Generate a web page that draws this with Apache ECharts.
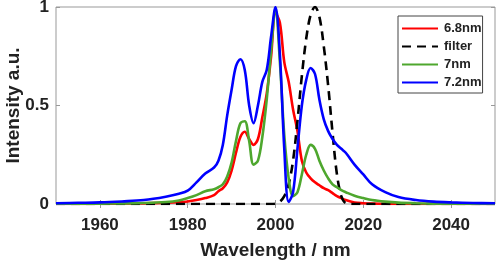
<!DOCTYPE html>
<html>
<head>
<meta charset="utf-8">
<script src="https://cdn.jsdelivr.net/npm/echarts@6/dist/echarts.min.js"></script>
<style>
  html, body { margin: 0; padding: 0; background: #fff; }
  #main { width: 498px; height: 261px; }
</style>
</head>
<body>
<div id="main"></div>
<script>
// wavelength samples (nm), shared by all series
const wavelength = [1950, 1955, 1960, 1965, 1970, 1975, 1978, 1980, 1982, 1984, 1986, 1987, 1988, 1989, 1990,
  1991, 1992, 1993, 1994, 1995, 1996, 1997, 1998, 1999, 2000, 2001, 2002, 2003, 2004, 2005, 2006, 2007, 2008,
  2009, 2010, 2011, 2012, 2013, 2014, 2015, 2016, 2018, 2020, 2022, 2025, 2028, 2032, 2036, 2040, 2045, 2050]

const red68 = [0, 0, 0.001, 0.002, 0.003, 0.006, 0.009, 0.013, 0.02, 0.03, 0.045, 0.065, 0.08, 0.11, 0.17,
  0.26, 0.34, 0.367, 0.33, 0.30, 0.33, 0.44, 0.56, 0.75, 0.97, 0.92, 0.72, 0.62, 0.48, 0.37, 0.22, 0.16, 0.13,
  0.11, 0.095, 0.08, 0.07, 0.055, 0.04, 0.03, 0.02, 0.008, 0.004, 0.002, 0.001, 0, 0, 0, 0, 0, 0]

const filter = [0, 0, 0, 0, 0, 0, 0, 0, 0, 0, 0, 0, 0, 0, 0,
  0, 0, 0, 0, 0, 0, 0, 0, 0, 0.002, 0.012, 0.04, 0.1, 0.22, 0.42, 0.65, 0.84, 0.96,
  1.0, 0.95, 0.8, 0.6, 0.36, 0.15, 0.04, 0.005, 0, 0, 0, 0, 0, 0, 0, 0, 0, 0]

const green7 = [0.001, 0.001, 0.002, 0.003, 0.005, 0.01, 0.018, 0.03, 0.045, 0.065, 0.075, 0.085, 0.10, 0.14, 0.21,
  0.32, 0.41, 0.42, 0.32, 0.2, 0.22, 0.34, 0.53, 0.78, 0.99, 0.72, 0.35, 0.13, 0.04, 0.06, 0.15, 0.25, 0.30,
  0.28, 0.22, 0.17, 0.13, 0.10, 0.085, 0.07, 0.06, 0.042, 0.03, 0.02, 0.012, 0.007, 0.004, 0.002, 0.001, 0.001, 0]

const blue72 = [0.004, 0.006, 0.008, 0.013, 0.02, 0.037, 0.052, 0.068, 0.11, 0.155, 0.185, 0.22, 0.3, 0.45, 0.58,
  0.70, 0.735, 0.68, 0.5, 0.41, 0.50, 0.62, 0.68, 0.85, 1.0, 0.76, 0.28, 0.01, 0.06, 0.28, 0.5, 0.63, 0.69,
  0.66, 0.53, 0.43, 0.37, 0.33, 0.30, 0.28, 0.26, 0.2, 0.15, 0.1, 0.06, 0.035, 0.02, 0.012, 0.008, 0.005, 0.004]

const xTicks = [1960, 1980, 2000, 2020, 2040]

const pairs = ys => wavelength.map((x, i) => [x, ys[i]])

const font = '"Liberation Sans", Arial, sans-serif'
const frame = '#999'

const chart = echarts.init(document.getElementById('main'))

const line = (name, color, data, type) => ({
  name: name,
  type: 'line',
  data: pairs(data),
  smooth: 0.35,
  showSymbol: false,
  symbol: 'none',
  lineStyle: { color: color, width: 2.6, type: type || 'solid' },
  itemStyle: { color: color }
})

chart.setOption({
  animation: false,
  grid: {
    left: 56, right: 3, top: 7, bottom: 57,
    outerBoundsMode: 'none',
    containLabel: false,
    show: true, borderColor: frame, borderWidth: 1
  },
  legend: {
    orient: 'vertical',
    left: 398,
    top: 16,
    itemWidth: 36,
    itemHeight: 12,
    itemGap: 5,
    padding: [6, 1, 4, 3],
    borderColor: '#444',
    borderWidth: 1,
    backgroundColor: '#fff',
    itemStyle: { opacity: 0 },
    textStyle: { fontFamily: font, fontWeight: 'bold', fontSize: 13, color: '#222', padding: [0, 0, 0, 1] }
  },
  xAxis: [
    {
      type: 'value',
      min: 1950,
      max: 2050,
      name: 'Wavelength / nm',
      nameLocation: 'middle',
      nameGap: 37,
      nameMoveOverlap: false,
      nameTextStyle: { fontFamily: font, fontWeight: 'bold', fontSize: 19, color: '#222' },
      axisLine: { show: false },
      axisTick: { show: true, inside: true, length: 4, customValues: xTicks, lineStyle: { color: frame } },
      axisLabel: {
        customValues: xTicks, formatter: v => String(v),
        fontFamily: font, fontWeight: 'bold', fontSize: 17, color: '#222', margin: 13
      },
      splitLine: { show: false }
    },
    {
      type: 'value',
      position: 'top',
      min: 1950,
      max: 2050,
      axisLine: { show: false },
      axisTick: { show: true, inside: true, length: 4, customValues: xTicks, lineStyle: { color: frame } },
      axisLabel: { show: false },
      splitLine: { show: false }
    }
  ],
  yAxis: [
    {
      type: 'value',
      min: 0,
      max: 1,
      interval: 0.5,
      name: 'Intensity a.u.',
      nameLocation: 'middle',
      nameGap: 33,
      nameMoveOverlap: false,
      nameTextStyle: { fontFamily: font, fontWeight: 'bold', fontSize: 19, color: '#222' },
      axisLine: { show: false },
      axisTick: { show: true, inside: true, length: 4, lineStyle: { color: frame } },
      axisLabel: { formatter: v => String(v), fontFamily: font, fontWeight: 'bold', fontSize: 17, color: '#222', margin: 7 },
      splitLine: { show: false }
    },
    {
      type: 'value',
      position: 'right',
      min: 0,
      max: 1,
      interval: 0.5,
      axisLine: { show: false },
      axisTick: { show: true, inside: true, length: 4, lineStyle: { color: frame } },
      axisLabel: { show: false },
      splitLine: { show: false }
    }
  ],
  series: [
    line('6.8nm', '#ff0000', red68),
    line('filter', '#000000', filter, [9, 6]),
    line('7nm', '#4ea72e', green7),
    line('7.2nm', '#0000ff', blue72)
  ]
})
</script>
</body>
</html>
